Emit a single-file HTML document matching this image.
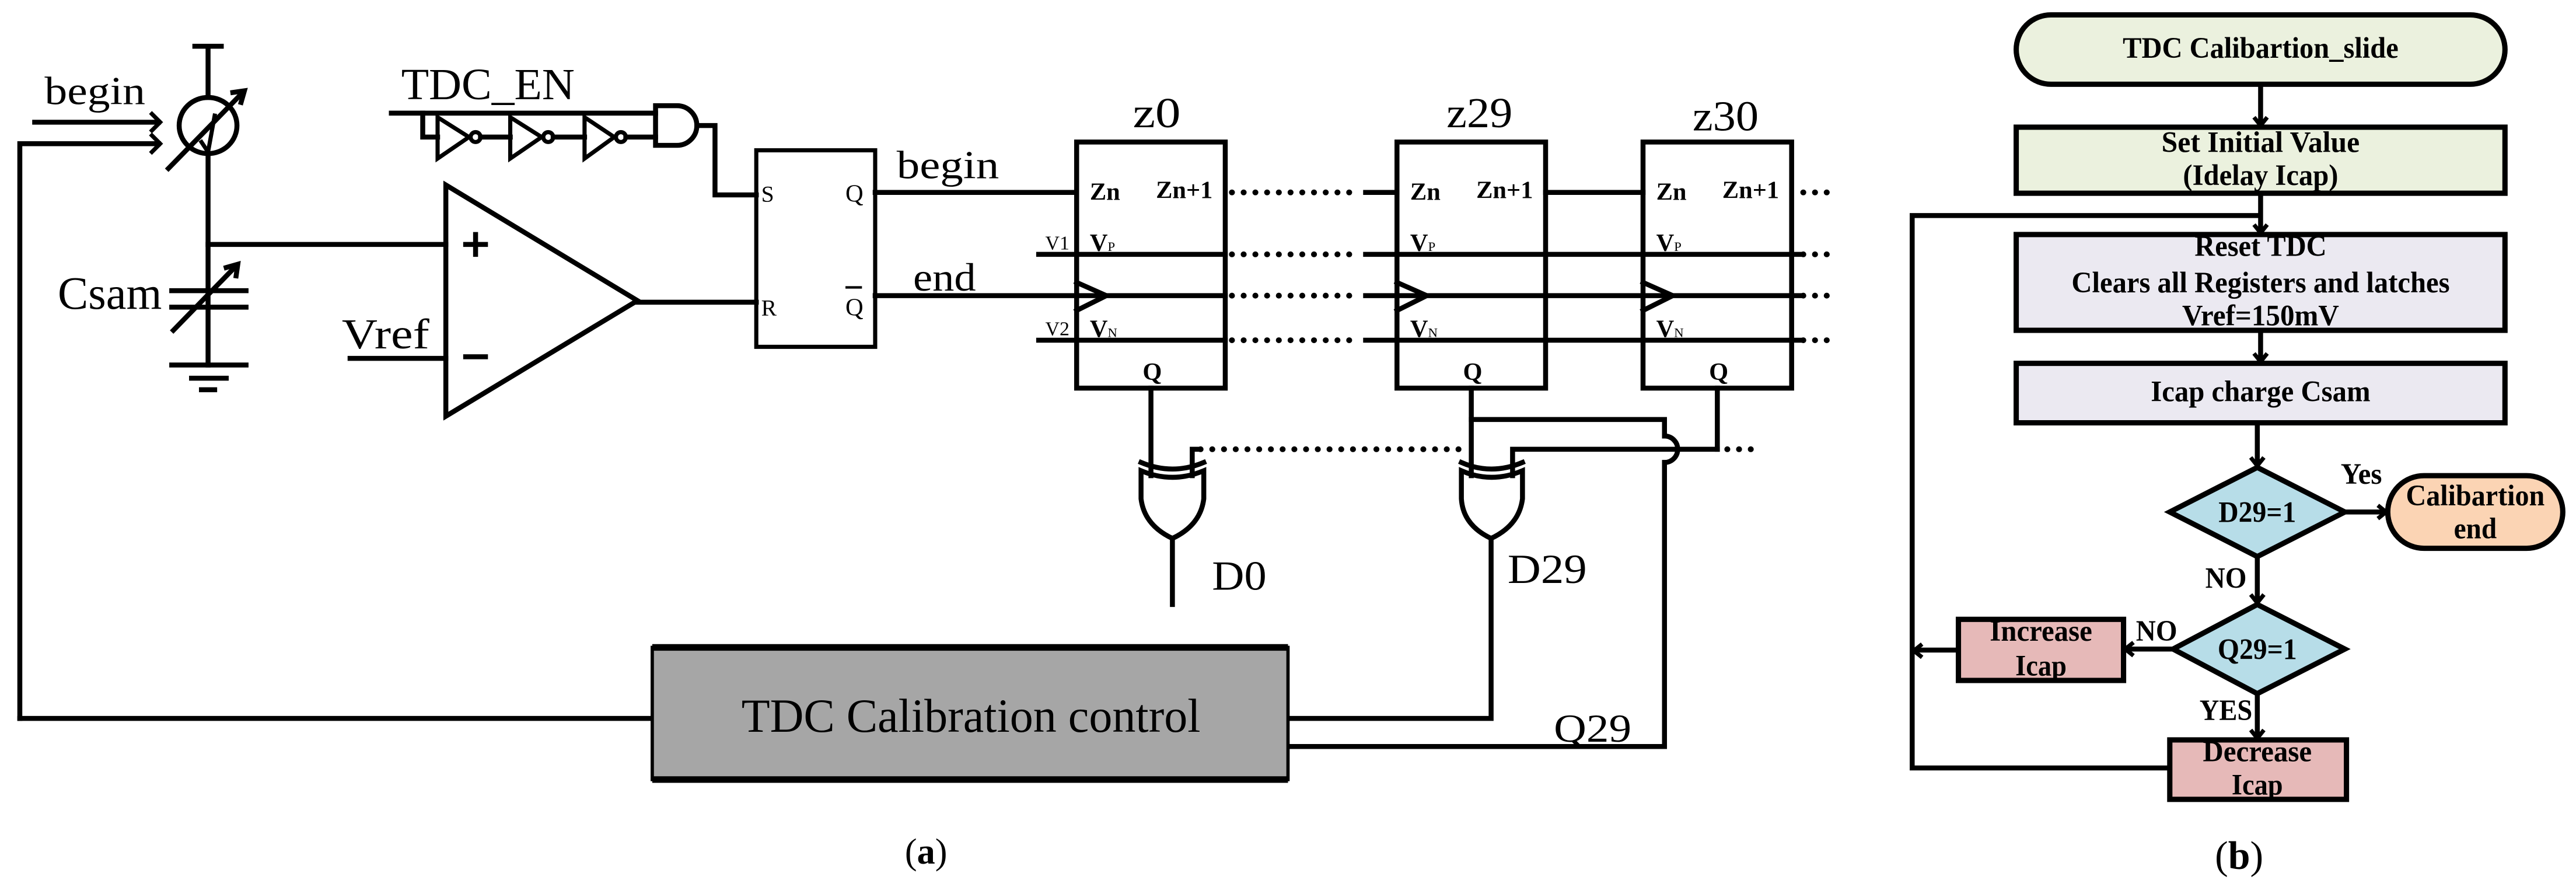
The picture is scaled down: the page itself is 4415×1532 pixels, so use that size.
<!DOCTYPE html>
<html><head><meta charset="utf-8"><style>
html,body{margin:0;padding:0;background:#fff;}
svg{display:block;}
.s{font-family:"Liberation Serif","Times New Roman",serif;}
.b{font-family:"Liberation Serif","Times New Roman",serif;font-weight:bold;}
</style></head><body>
<svg width="4415" height="1532" viewBox="0 0 1560 541.3" preserveAspectRatio="none" xmlns="http://www.w3.org/2000/svg">
<rect x="0" y="0" width="1560" height="541.3" fill="#fff"/>
<g fill="none" stroke="#000" stroke-width="3" stroke-linecap="square">
<line x1="118" y1="28" x2="134" y2="28"/>
<line x1="126" y1="28" x2="126" y2="59"/>
<ellipse cx="126" cy="76" rx="17.5" ry="17"/>
<line x1="126" y1="93" x2="126" y2="221"/>
<line x1="102" y1="102" x2="147" y2="56"/>
<polyline points="141,56 148,55 146,62"/>
<polyline points="130,70 126,92 122,86" stroke-width="2.5"/>
<line x1="21" y1="74" x2="96" y2="74"/>
<polyline points="92,69 97,74 92,79" stroke-width="2.5"/>
<polyline points="12,435 12,87 96,87"/>
<polyline points="92,82 97,87 92,92" stroke-width="2.5"/>
<line x1="126" y1="148" x2="270" y2="148"/>
<line x1="104" y1="176" x2="149" y2="176"/>
<line x1="104" y1="186" x2="149" y2="186"/>
<line x1="105" y1="200" x2="143" y2="161"/>
<polyline points="137,162 144,160 143,167"/>
<line x1="104" y1="221" x2="149" y2="221"/>
<line x1="116" y1="229" x2="137" y2="229"/>
<line x1="122" y1="236" x2="130" y2="236"/>
<polygon points="270,112 270,252 386,182" stroke-linejoin="miter"/>
<line x1="282" y1="148" x2="294" y2="148"/>
<line x1="288" y1="142" x2="288" y2="154"/>
<line x1="282" y1="216" x2="294" y2="216"/>
<line x1="212" y1="217" x2="270" y2="217"/>
<line x1="386" y1="183" x2="458" y2="183"/>
<rect x="458" y="91" width="72" height="119" stroke-width="2.5"/>
<line x1="237" y1="68.5" x2="397" y2="68.5"/>
<polyline points="256,68.5 256,83 265,83"/>
<polygon points="265,71 265,96 284,83" stroke-width="2.5"/>
<circle cx="288" cy="83" r="3" stroke-width="2.5"/>
<line x1="291" y1="83" x2="309" y2="83"/>
<polygon points="309,71 309,96 328,83" stroke-width="2.5"/>
<circle cx="332" cy="83" r="3" stroke-width="2.5"/>
<line x1="335" y1="83" x2="354" y2="83"/>
<polygon points="354,71 354,96 372,83" stroke-width="2.5"/>
<circle cx="376" cy="83" r="3" stroke-width="2.5"/>
<line x1="379" y1="83" x2="397" y2="83"/>
<path d="M397,64 L410,64 A12,12 0 0 1 410,88 L397,88 Z"/>
<polyline points="422,76 433,76 433,118 458,118"/>
<line x1="530" y1="116.5" x2="652" y2="116.5"/>
<line x1="530" y1="179" x2="742" y2="179"/>
<rect x="652" y="86" width="90" height="149"/>
<rect x="846" y="86" width="90" height="149"/>
<rect x="995" y="86" width="90" height="149"/>
<polyline points="652,171 670,179 652,188"/>
<polyline points="846,171 864,179 846,188"/>
<polyline points="995,171 1013,179 995,188"/>
<line x1="629" y1="154" x2="742" y2="154"/>
<line x1="629" y1="206" x2="742" y2="206"/>
<line x1="827" y1="154" x2="1090" y2="154"/>
<line x1="827" y1="179" x2="1090" y2="179"/>
<line x1="827" y1="206" x2="1090" y2="206"/>
<line x1="827" y1="116.5" x2="846" y2="116.5"/>
<line x1="936" y1="116.5" x2="995" y2="116.5"/>
</g>
<g fill="none" stroke="#000" stroke-width="3.5" stroke-linecap="round" stroke-dasharray="0.1 7">
<line x1="746" y1="116.5" x2="824" y2="116.5"/>
<line x1="746" y1="154" x2="824" y2="154"/>
<line x1="746" y1="179" x2="824" y2="179"/>
<line x1="746" y1="206" x2="824" y2="206"/>
<line x1="1092" y1="116.5" x2="1113" y2="116.5"/>
<line x1="1092" y1="154" x2="1113" y2="154"/>
<line x1="1092" y1="179" x2="1113" y2="179"/>
<line x1="1092" y1="206" x2="1113" y2="206"/>
<line x1="727" y1="272" x2="884" y2="272"/>
<line x1="1046" y1="272" x2="1062" y2="272"/>
</g>
<g fill="none" stroke="#000" stroke-width="3" stroke-linecap="square">
<line x1="697" y1="235" x2="697" y2="288"/>
<polyline points="722,288 722,272 725,272"/>
<path d="M691,280 Q710,288 729,280"/>
<path d="M691,285 Q710,293 729,285 L729,302 Q727,318 710,326 Q693,318 691,302 Z"/>
<line x1="710" y1="326" x2="710" y2="366"/>
<line x1="891" y1="235" x2="891" y2="288"/>
<polyline points="891,254 1008,254 1008,264"/>
<path d="M1008,264 A8,8 0 0 1 1008,280"/>
<line x1="1008" y1="280" x2="1008" y2="452"/>
<polyline points="916,288 916,272 1040,272"/>
<line x1="1040" y1="235" x2="1040" y2="272"/>
<path d="M885,280 Q903,288 922,280"/>
<path d="M885,285 Q903,293 922,285 L922,302 Q920,318 903,326 Q886,318 885,302 Z"/>
<polyline points="903,326 903,435 782,435"/>
<polyline points="782,452 1008,452"/>
<line x1="12" y1="435" x2="395" y2="435"/>
</g>
<rect x="395" y="392" width="385" height="80" fill="#a6a6a6" stroke="#000" stroke-width="2"/>
<line x1="395" y1="392" x2="780" y2="392" stroke="#000" stroke-width="4"/>
<line x1="395" y1="472" x2="780" y2="472" stroke="#000" stroke-width="4"/>
<g class="s" fill="#000" font-family="Liberation Serif, Times New Roman, serif">
<text x="27" y="63" font-size="24" textLength="61" lengthAdjust="spacingAndGlyphs">begin</text>
<text x="243" y="60" font-size="27" textLength="105" lengthAdjust="spacingAndGlyphs">TDC_EN</text>
<text x="35" y="187" font-size="28" textLength="63" lengthAdjust="spacingAndGlyphs">Csam</text>
<text x="207" y="211" font-size="26" textLength="53" lengthAdjust="spacingAndGlyphs">Vref</text>
<text x="461" y="122" font-size="14">S</text>
<text x="461" y="191" font-size="14">R</text>
<text x="512" y="122" font-size="15">Q</text>
<text x="512" y="191" font-size="15">Q</text>
<line x1="512" y1="174" x2="522" y2="174" stroke="#000" stroke-width="1.5"/>
<text x="543" y="108" font-size="24" textLength="62" lengthAdjust="spacingAndGlyphs">begin</text>
<text x="553" y="176" font-size="24" textLength="38" lengthAdjust="spacingAndGlyphs">end</text>
<text x="686" y="77" font-size="26" textLength="29" lengthAdjust="spacingAndGlyphs">z0</text>
<text x="876" y="77" font-size="26" textLength="40" lengthAdjust="spacingAndGlyphs">z29</text>
<text x="1025" y="79" font-size="26" textLength="40" lengthAdjust="spacingAndGlyphs">z30</text>
<text x="633" y="151" font-size="12">V1</text>
<text x="633" y="203" font-size="12">V2</text>
<text x="734" y="357" font-size="25" textLength="33" lengthAdjust="spacingAndGlyphs">D0</text>
<text x="913" y="353" font-size="25" textLength="48" lengthAdjust="spacingAndGlyphs">D29</text>
<text x="941" y="449" font-size="24" textLength="47" lengthAdjust="spacingAndGlyphs">Q29</text>
<text x="588" y="443" font-size="29" text-anchor="middle" textLength="278" lengthAdjust="spacingAndGlyphs">TDC Calibration control</text>
<text x="548" y="523" font-size="22">(<tspan font-weight="bold">a</tspan>)</text>
</g>
<g class="b" fill="#000" font-size="15" font-family="Liberation Serif, Times New Roman, serif">
<text x="660" y="121">Zn</text><text x="700" y="120">Zn+1</text>
<text x="854" y="121">Zn</text><text x="894" y="120">Zn+1</text>
<text x="1003" y="121">Zn</text><text x="1043" y="120">Zn+1</text>
<text x="660" y="152">V<tspan font-size="8" font-weight="normal">P</tspan></text>
<text x="660" y="204">V<tspan font-size="8" font-weight="normal">N</tspan></text>
<text x="854" y="152">V<tspan font-size="8" font-weight="normal">P</tspan></text>
<text x="854" y="204">V<tspan font-size="8" font-weight="normal">N</tspan></text>
<text x="1003" y="152">V<tspan font-size="8" font-weight="normal">P</tspan></text>
<text x="1003" y="204">V<tspan font-size="8" font-weight="normal">N</tspan></text>
<text x="692" y="230">Q</text><text x="886" y="230">Q</text><text x="1035" y="230">Q</text>
</g>
<g stroke="#000" stroke-width="3.2">
<rect x="1221" y="9" width="296" height="42" rx="21" fill="#ebf1de"/>
<rect x="1221" y="77" width="296" height="40" fill="#ebf1de"/>
<rect x="1221" y="142" width="296" height="58" fill="#ebe9f1"/>
<rect x="1221" y="220" width="296" height="36" fill="#ebe9f1"/>
<polygon points="1314,310 1367,283 1420,310 1367,337" fill="#b7dde8"/>
<rect x="1446" y="288" width="106" height="44" rx="22" fill="#fbd4b4"/>
<polygon points="1316,393 1367,366 1420,393 1367,420" fill="#b7dde8"/>
<rect x="1186" y="375" width="100" height="37" fill="#e6b9b8"/>
<rect x="1314" y="448" width="107" height="36" fill="#e6b9b8"/>
</g>
<g fill="none" stroke="#000" stroke-width="3">
<line x1="1369" y1="51" x2="1369" y2="76"/>
<line x1="1369" y1="117" x2="1369" y2="141"/>
<polyline points="1369,130.5 1158,130.5 1158,465 1314,465"/>
<line x1="1369" y1="200" x2="1369" y2="219"/>
<line x1="1367" y1="256" x2="1367" y2="282"/>
<line x1="1420" y1="310" x2="1445" y2="310"/>
<line x1="1367" y1="337" x2="1367" y2="365"/>
<line x1="1316" y1="393" x2="1287" y2="393"/>
<line x1="1186" y1="393.6" x2="1159" y2="393.6"/>
<line x1="1367" y1="420" x2="1367" y2="447"/>
<g stroke-width="2.5">
<polyline points="1365,71 1369,76 1373,71"/>
<polyline points="1365,136 1369,141 1373,136"/>
<polyline points="1365,214 1369,219 1373,214"/>
<polyline points="1363,277 1367,282 1371,277"/>
<polyline points="1440,306 1445,310 1440,314"/>
<polyline points="1363,360 1367,365 1371,360"/>
<polyline points="1292,389 1287,393 1292,397"/>
<polyline points="1164,390 1159,394 1164,398"/>
<polyline points="1363,442 1367,447 1371,442"/>
</g>
</g>
<g class="b" fill="#000" text-anchor="middle" font-size="18" font-family="Liberation Serif, Times New Roman, serif">
<text x="1369" y="35" textLength="167" lengthAdjust="spacingAndGlyphs">TDC Calibartion_slide</text>
<text x="1369" y="92" textLength="120" lengthAdjust="spacingAndGlyphs">Set Initial Value</text>
<text x="1369" y="112" textLength="94" lengthAdjust="spacingAndGlyphs">(Idelay Icap)</text>
<text x="1369" y="155" textLength="80" lengthAdjust="spacingAndGlyphs">Reset TDC</text>
<text x="1369" y="177" textLength="229" lengthAdjust="spacingAndGlyphs">Clears all Registers and latches</text>
<text x="1369" y="197" textLength="95" lengthAdjust="spacingAndGlyphs">Vref=150mV</text>
<text x="1369" y="243" textLength="133" lengthAdjust="spacingAndGlyphs">Icap charge Csam</text>
<text x="1367" y="316" textLength="47" lengthAdjust="spacingAndGlyphs">D29=1</text>
<text x="1430" y="293" textLength="25" lengthAdjust="spacingAndGlyphs">Yes</text>
<text x="1499" y="306" textLength="84" lengthAdjust="spacingAndGlyphs">Calibartion</text>
<text x="1499" y="326" textLength="26" lengthAdjust="spacingAndGlyphs">end</text>
<text x="1348" y="356" textLength="25" lengthAdjust="spacingAndGlyphs">NO</text>
<text x="1367" y="399" textLength="48" lengthAdjust="spacingAndGlyphs">Q29=1</text>
<text x="1306" y="388" textLength="25" lengthAdjust="spacingAndGlyphs">NO</text>
<text x="1236" y="388" textLength="62" lengthAdjust="spacingAndGlyphs">Increase</text>
<text x="1236" y="409" textLength="31" lengthAdjust="spacingAndGlyphs">Icap</text>
<text x="1348" y="436" textLength="32" lengthAdjust="spacingAndGlyphs">YES</text>
<text x="1367" y="461" textLength="66" lengthAdjust="spacingAndGlyphs">Decrease</text>
<text x="1367" y="481" textLength="31" lengthAdjust="spacingAndGlyphs">Icap</text>
<text x="1356" y="526" font-size="24" font-weight="normal">(<tspan font-weight="bold">b</tspan>)</text>
</g>
</svg>
</body></html>
